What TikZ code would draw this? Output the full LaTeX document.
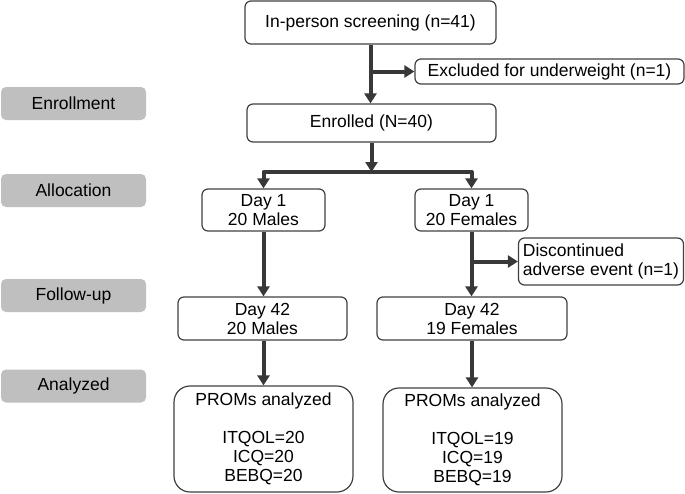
\documentclass[tikz,border=0pt]{standalone}
\usepackage{fontspec}
\setmainfont{Liberation Sans}
\usepackage{tikz}
\usetikzlibrary{arrows.meta}

\begin{document}
\begin{tikzpicture}[line cap=butt,line join=round,x=1pt,y=-1pt,
    >={Triangle[length=10pt,width=12pt]},
    every node/.style={font=\fontsize{17.5}{19}\selectfont,align=center,inner sep=1pt},
    stepbox/.style={draw=black!75,line width=1.2pt,rounded corners=6pt},
    bigbox/.style={draw=black!75,line width=1.2pt,rounded corners=16pt},
    phase/.style={fill=black!25,rounded corners=5pt,minimum width=145pt,minimum height=33pt},
    flow/.style={draw=black!78,line width=4pt}]
        \useasboundingbox (0,0) rectangle (685,493);
        % phases on the left
        \node[phase] (enroll) at (73.5,103.5) {Enrollment};
        \node[phase] (alloc) at (73.5,190.5) {Allocation};
        \node[phase] (follow) at (73.5,295.5) {Follow-up};
        \node[phase] (analyzed) at (73.5,386) {Analyzed};
        % boxes
        \node[stepbox,minimum width=251pt,minimum height=43pt] (screen) at (370.5,22.5) {In-person screening (n=41)};
        \node[stepbox,minimum width=269pt,minimum height=25pt] (excl) at (549.5,71.5) {Excluded for underweight (n=1)};
        \node[stepbox,minimum width=249pt,minimum height=38pt] (enrolled) at (371.5,123) {Enrolled (N=40)};
        \node[stepbox,minimum width=123pt,minimum height=42pt] (dayonem) at (263.5,210) {Day 1\\20 Males};
        \node[stepbox,minimum width=113pt,minimum height=42pt] (dayonef) at (471.5,210) {Day 1\\20 Females};
        \node[stepbox,minimum width=165pt,minimum height=47pt,align=left] (discont) at (601,261.5) {Discontinued\\adverse event (n=1)};
        \node[stepbox,minimum width=169pt,minimum height=43pt] (daylastm) at (262.5,318.5) {Day 42\\20 Males};
        \node[stepbox,minimum width=190pt,minimum height=43pt] (daylastf) at (472,318.5) {Day 42\\19 Females};
        \node[bigbox,minimum width=179pt,minimum height=106pt] (promsm) at (263.5,439) {PROMs analyzed\\[19pt]ITQOL=20\\ICQ=20\\BEBQ=20};
        \node[bigbox,minimum width=179pt,minimum height=104pt] (promsf) at (472.5,440) {PROMs analyzed\\[19pt]ITQOL=19\\ICQ=19\\BEBQ=19};
        % connectors
        \coordinate (split) at (enrolled.south |- 0,172);
        \draw[flow,->] (screen.south) -- (screen.south |- enrolled.north);
        \draw[flow,->] (screen.south |- excl.west) -- (excl.west);
        \draw[flow,->] (enrolled.south) -- (split);
        \draw[flow,->] (split) -| (dayonem.north);
        \draw[flow,->] (split) -| (dayonef.north);
        \draw[flow,->] (dayonem.south) -- (dayonem.south |- daylastm.north);
        \draw[flow,->] (dayonef.south) -- (dayonef.south |- daylastf.north);
        \draw[flow,->] (dayonef.south |- discont.west) -- (discont.west);
        \draw[flow,->] (daylastm.south -| promsm.north) -- (promsm.north);
        \draw[flow,->] (daylastf.south) -- (daylastf.south |- promsf.north);
    \end{tikzpicture}
\end{document}
